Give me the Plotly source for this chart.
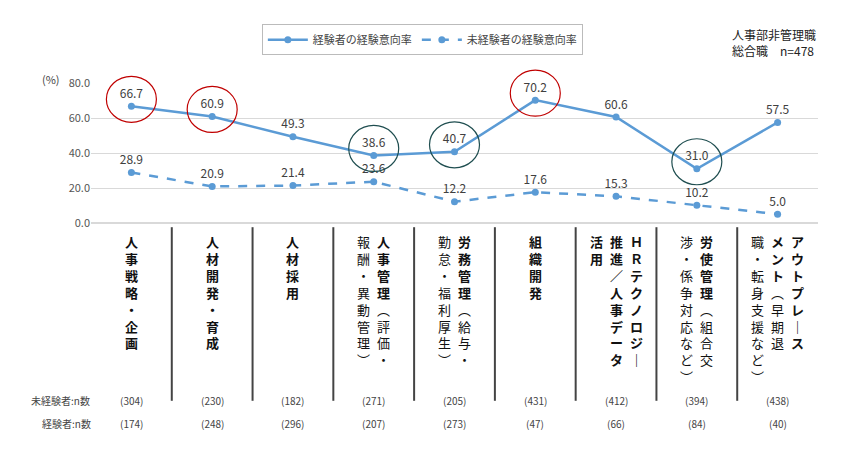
import plotly.graph_objects as go

categories = ["人事戦略・企画","人材開発・育成","人材採用","人事管理","労務管理","組織開発","HRテクノロジー","労使管理","アウトプレースメント"]
experienced = [66.7, 60.9, 49.3, 38.6, 40.7, 70.2, 60.6, 31.0, 57.5]
inexperienced = [28.9, 20.9, 21.4, 23.6, 12.2, 17.6, 15.3, 10.2, 5.0]
n_inexp = [304, 230, 182, 271, 205, 431, 412, 394, 438]
n_exp = [174, 248, 296, 207, 273, 47, 66, 84, 40]
circle_red = [0, 1, 5]
circle_dark = [3, 4, 7]
# label columns, left to right; each column = list of (text, bold)
label_cols = [
    [[("人事戦略・企画", True)]],
    [[("人材開発・育成", True)]],
    [[("人材採用", True)]],
    [[("報酬・異動管理︶", False)], [("人事管理", True), ("︵評価・", False)]],
    [[("勤怠・福利厚生︶", False)], [("労務管理", True), ("︵給与・", False)]],
    [[("組織開発", True)]],
    [[("活用", True)], [("推進／人事データ", True)], [("ＨＲテクノロジ｜", True)]],
    [[("渉・係争対応など︶", False)], [("労使管理", True), ("︵組合交", False)]],
    [[("職・転身支援など︶", False)], [("メント", True), ("︵早期退", False)], [("アウトプレ｜ス", True)]],
]

blue = "#5B9BD5"
YMAX = 80
x = list(range(len(categories)))
fig = go.Figure()
fig.add_trace(go.Scatter(x=x, y=experienced, mode="lines+markers+text", name="経験者の経験意向率",
    line=dict(color=blue, width=2.5), marker=dict(size=7, color=blue),
    text=[f"{v:.1f}" for v in experienced], textposition="top center", cliponaxis=False,
    textfont=dict(size=12, color="#404040", family="Noto Sans CJK JP")))
fig.add_trace(go.Scatter(x=x, y=inexperienced, mode="lines+markers+text", name="未経験者の経験意向率",
    line=dict(color=blue, width=2.5, dash="dash"), marker=dict(size=7, color=blue),
    text=[f"{v:.1f}" for v in inexperienced], textposition="top center", cliponaxis=False,
    textfont=dict(size=12, color="#404040", family="Noto Sans CJK JP")))

shapes = []
for i in circle_red + circle_dark:
    col = "#C00000" if i in circle_red else "#1F4E50"
    shapes.append(dict(type="circle", xref="x", yref="paper", xsizemode="pixel", ysizemode="pixel",
        xanchor=i, yanchor=experienced[i] / YMAX, x0=-25, x1=25, y0=-16, y1=30,
        line=dict(color=col, width=1.2)))
for i in range(len(categories) - 1):
    shapes.append(dict(type="line", xref="x", yref="paper", x0=i + 0.5, x1=i + 0.5, y0=-0.03, y1=-1.27,
        line=dict(color="#444", width=2)))

F = dict(size=10, color="#444", family="Noto Sans CJK JP")
ann = []
for i, cols in enumerate(label_cols):
    k = len(cols)
    for j, col in enumerate(cols):
        parts = []
        for txt, b in col:
            for ch in txt:
                parts.append(f"<b>{ch}</b>" if b else ch)
        ann.append(dict(x=i, y=-0.05, xref="x", yref="paper", xshift=(j - (k - 1) / 2) * 20,
            text="<br>".join(parts), showarrow=False, yanchor="top", align="center",
            font=dict(size=13, color="#111", family="Noto Sans CJK JP")))
    ann.append(dict(x=i, y=(215 - 402) / 140, xref="x", yref="paper", text=f"({n_inexp[i]})", showarrow=False, font=F))
    ann.append(dict(x=i, y=(215 - 425) / 140, xref="x", yref="paper", text=f"({n_exp[i]})", showarrow=False, font=F))
ann.append(dict(x=-0.085, y=(215 - 402) / 140, xref="paper", yref="paper", text="未経験者:n数", showarrow=False,
    xanchor="left", font=F))
ann.append(dict(x=-0.07, y=(215 - 425) / 140, xref="paper", yref="paper", text="経験者:n数", showarrow=False,
    xanchor="left", font=F))
ann.append(dict(x=-0.07, y=1.1, xref="paper", yref="paper", text="(%)", showarrow=False,
    font=dict(size=11, color="#444")))
ann.append(dict(x=1.0, y=1.42, xref="paper", yref="paper", text="人事部非管理職<br>総合職　n=478", showarrow=False,
    xanchor="right", yanchor="top", align="left", font=dict(size=12, color="#222", family="Noto Sans CJK JP")))

fig.update_layout(width=846, height=450, margin=dict(l=83, r=36, t=75, b=235, autoexpand=False),
    plot_bgcolor="white", paper_bgcolor="white", shapes=shapes, annotations=ann,
    font=dict(family="Noto Sans CJK JP", color="#444"),
    legend=dict(orientation="h", x=0.235, y=1.42, xanchor="left", yanchor="top",
        bordercolor="#BBBBBB", borderwidth=1, font=dict(size=11), itemwidth=40),
    xaxis=dict(range=[-0.5, 8.5], showticklabels=False, showgrid=False, zeroline=False, automargin=False),
    yaxis=dict(range=[0, YMAX], dtick=20, tickformat=".1f", showgrid=True, gridcolor="#D9D9D9", automargin=False,
        zeroline=True, zerolinecolor="#D9D9D9", tickfont=dict(size=11, color="#555")))
fig.write_html("out.html")
